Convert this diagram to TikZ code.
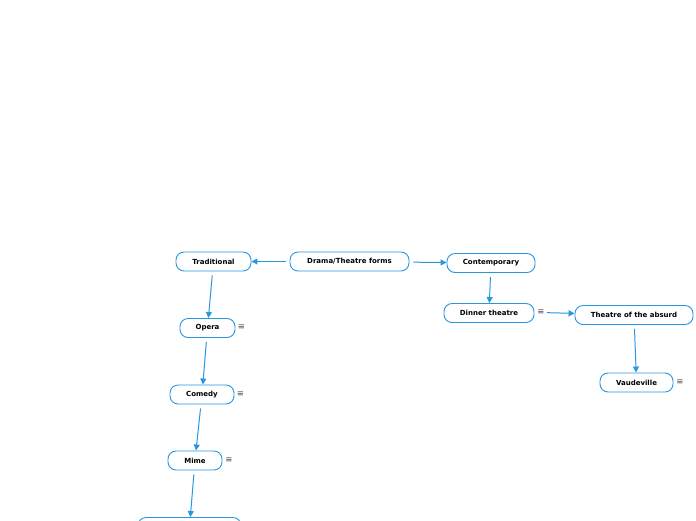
\documentclass[tikz,border=0pt]{standalone}
\usepackage{fontspec}
\setmainfont{DejaVu Sans}
\usetikzlibrary{arrows.meta}
\definecolor{MapBlue}{RGB}{40,150,225}
\definecolor{IconGrey}{RGB}{70,70,70}
\tikzset{
  topic/.style={draw=MapBlue, line width=0.9pt, fill=white, rounded corners=8pt,
    minimum height=19pt, inner sep=1pt, font=\fontsize{7}{8}\selectfont\bfseries},
  arr/.style={-{Triangle[length=6pt,width=6pt]}, line width=1pt, MapBlue},
  menuicon/.style={font=\fontsize{8.5}{9}\selectfont, text=IconGrey, inner sep=1pt},
}
\begin{document}
\begin{tikzpicture}[x=1pt,y=-1pt]
  \useasboundingbox (0,0) rectangle (696,520);
  \clip (0,0) rectangle (696,520);
  % topics
  \node[topic, minimum width=119pt] (drama) at (349.5,261.5) {Drama/Theatre forms};
  \node[topic, minimum width=75pt] (trad) at (213.5,261.5) {Traditional};
  \node[topic, minimum width=88pt] (contemp) at (491,263) {Contemporary};
  \node[topic, minimum width=90pt] (dinner) at (489,313) {Dinner theatre};
  \node[topic, minimum width=118pt] (absurd) at (634,315) {Theatre of the absurd};
  \node[topic, minimum width=73pt] (vaude) at (636.5,382.5) {Vaudeville};
  \node[topic, minimum width=55pt] (opera) at (207.5,328) {Opera};
  \node[topic, minimum width=64pt] (comedy) at (202,394.5) {Comedy};
  \node[topic, minimum width=54pt] (mime) at (195,460.5) {Mime};
  \node[topic, minimum width=103pt] (last) at (189.5,527) {};
  % note icons
  \node[menuicon] (operanote) at (241.5,327.5) {≡};
  \node[menuicon] (comedynote) at (240.5,394) {≡};
  \node[menuicon] (mimenote) at (229,460) {≡};
  \node[menuicon] (dinnernote) at (541,312.5) {≡};
  \node[menuicon] (vaudenote) at (680,382) {≡};
  % connectors
  \draw[arr, shorten <=4pt] (drama) -- (trad);
  \draw[arr, shorten <=4pt] (drama) -- (contemp);
  \draw[arr, shorten <=4pt] (trad) -- (opera);
  \draw[arr, shorten <=4pt] (opera) -- (comedy);
  \draw[arr, shorten <=4pt] (comedy) -- (mime);
  \draw[arr, shorten <=4pt] (mime) -- (last);
  \draw[arr, shorten <=4pt] (contemp) -- (dinner);
  \draw[arr, shorten <=1pt] (dinnernote) -- (absurd);
  \draw[arr, shorten <=4pt] (absurd) -- (vaude);
\end{tikzpicture}
\end{document}
